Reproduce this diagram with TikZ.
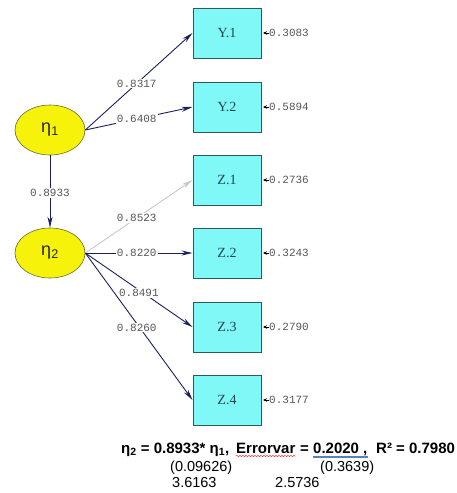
\documentclass[tikz,border=0pt]{standalone}
\usepackage{fontspec}
\setmainfont{Liberation Sans}
\newfontfamily\monof{Liberation Mono}
\newfontfamily\boxf{Liberation Serif}
\usetikzlibrary{arrows.meta,shapes.geometric,decorations.pathmorphing}
\definecolor{navy}{HTML}{1C1F5E}
\definecolor{lgrey}{HTML}{C8C8C8}
\definecolor{boxfill}{HTML}{80F8F8}
\definecolor{boxline}{HTML}{2E5A5A}
\definecolor{boxtext}{HTML}{1D4848}
\definecolor{ellfill}{HTML}{F7F20A}
\definecolor{ellline}{HTML}{6A6A30}
\definecolor{lbltext}{HTML}{555555}
\definecolor{wavyred}{HTML}{E04040}
\definecolor{ulblue}{HTML}{5A7FC0}
\begin{document}
\begin{tikzpicture}[x=1pt,y=-1pt,
  latent/.style={ellipse,draw=ellline,line width=0.6pt,fill=ellfill,minimum width=70pt,minimum height=50pt,inner sep=0pt,font=\fontsize{18}{20}\selectfont,text=black!85},
  obs/.style={rectangle,draw=boxline,line width=1pt,fill=boxfill,minimum width=68pt,minimum height=50pt,inner sep=0pt,font=\boxf\fontsize{14}{16}\selectfont,text=boxtext},
  lbl/.style={fill=white,inner sep=1pt,font=\monof\fontsize{11}{12}\selectfont,text=lbltext},
  errlbl/.style={anchor=west,inner sep=0pt,font=\monof\fontsize{11}{12}\selectfont,text=lbltext},
  path/.style={draw=navy,line width=0.9pt,-{Stealth[length=11pt,width=5pt]}},
  gpath/.style={draw=lgrey,line width=0.9pt,-{Stealth[length=11pt,width=5pt]}},
  errarr/.style={draw=black,line width=0.8pt,-{Stealth[length=4pt,width=3.5pt]}},
  eqb/.style={anchor=base west,inner sep=0pt,font=\bfseries\fontsize{15}{17}\selectfont},
  eqr/.style={anchor=base west,inner sep=0pt,font=\fontsize{14.5}{16}\selectfont}]
\useasboundingbox (0,0) rectangle (456,493);

% latent variables
\node[latent] (e1) at (50,130) {η\textsubscript{1}};
\node[latent] (e2) at (50,253) {η\textsubscript{2}};

% observed variables
\node[obs] (y1) at (227,33) {Y.1};
\node[obs] (y2) at (227,107) {Y.2};
\node[obs] (z1) at (227,180) {Z.1};
\node[obs] (z2) at (227,253) {Z.2};
\node[obs] (z3) at (227,327) {Z.3};
\node[obs] (z4) at (227,400) {Z.4};

% error variances
\node[errlbl] (ey1) at (269,33) {0.3083};
\node[errlbl] (ey2) at (269,107) {0.5894};
\node[errlbl] (ez1) at (269,180) {0.2736};
\node[errlbl] (ez2) at (269,253) {0.3243};
\node[errlbl] (ez3) at (269,327) {0.2790};
\node[errlbl] (ez4) at (269,400) {0.3177};
\foreach \a/\b in {ey1/y1,ey2/y2,ez1/z1,ez2/z2,ez3/z3,ez4/z4}
  \draw[errarr] (\a.west) -- ([xshift=1.5pt]\b.east);

% paths
\draw[path] (e1.east) -- node[lbl,pos=0.48] (l1) {0.8317} (y1.west);
\draw[path] (e1.east) -- node[lbl,pos=0.48] (l2) {0.6408} (y2.west);
\draw[path] (e1.south) -- node[lbl,pos=0.52] (l3) {0.8933} (e2.north);
\draw[gpath] (e2.east) -- node[lbl,pos=0.48] (l4) {0.8523} (z1.west);
\draw[path] (e2.east) -- node[lbl,pos=0.48] (l5) {0.8220} (z2.west);
\draw[path] (e2.east) -- node[lbl,pos=0.5,yshift=-3pt] (l6) {0.8491} (z3.west);
\draw[path] (e2.east) -- node[lbl,pos=0.48,yshift=-4pt] (l7) {0.8260} (z4.west);

% structural equation
\node[eqb] (q1) at (121,453) {η\textsubscript{2} = 0.8933* η\textsubscript{1},};
\node[eqb] (q2) at (236,453) {Errorvar};
\node[eqb] (q3) at (300,453) {=};
\node[eqb] (q4) at (313,453) {0.2020};
\node[eqb] (q5) at (363,453) {,};
\node[eqb] (q6) at (376,453) {R² = 0.7980};
\node[eqr] (s1) at (170,471) {(0.09626)};
\node[eqr] (s2) at (320,471) {(0.3639)};
\node[eqr] (t1) at (172,487) {3.6163};
\node[eqr] (t2) at (275,487) {2.5736};
\draw[wavyred,line width=0.5pt,decorate,decoration={snake,amplitude=0.7pt,segment length=3pt}]
  ([yshift=-3pt]q2.base west) -- ([yshift=-3pt]q2.base east);
\draw[ulblue,line width=0.5pt] ([yshift=-3pt]q4.base west) -- ([yshift=-3pt]q5.base east);
\draw[ulblue,line width=0.5pt] ([yshift=-4.5pt]q4.base west) -- ([yshift=-4.5pt]q5.base east);
\end{tikzpicture}
\end{document}
